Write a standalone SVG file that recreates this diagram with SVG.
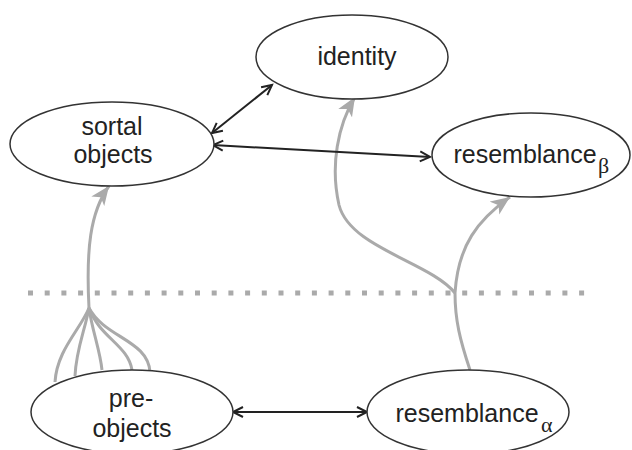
<svg xmlns="http://www.w3.org/2000/svg" width="632" height="450" viewBox="0 0 632 450">
<style>
.node ellipse{fill:#fff;stroke:#333;stroke-width:1.5}
.lbl{font-family:"Liberation Sans",Arial,sans-serif;font-size:25px;fill:#222;text-anchor:middle}
.sub{font-family:"Liberation Serif","DejaVu Serif",serif;font-size:22px;fill:#222}
.blk{fill:none;stroke:#222;stroke-width:2}
.gry{fill:none;stroke:#aaa;stroke-width:3}
</style>
<defs>
<marker id="bh" markerUnits="userSpaceOnUse" markerWidth="14" markerHeight="14" refX="11" refY="6" orient="auto-start-reverse" viewBox="0 0 14 12">
<path d="M1,1 L11,6 L1,11" fill="none" stroke="#222" stroke-width="2"/>
</marker>
<marker id="gh" markerUnits="userSpaceOnUse" markerWidth="20" markerHeight="17" refX="19" refY="8" orient="auto" viewBox="0 0 20 16">
<path d="M0,0 L19,8 L0,16 L5,8 z" fill="#aaa"/>
</marker>
</defs>
<rect width="632" height="450" fill="#fff"/>
<line x1="28" y1="293" x2="592" y2="293" stroke="#aaa" stroke-width="5" stroke-dasharray="5 11.7"/>
<g id="connectors">
<path class="gry" d="M55,382 C57,350 80,330 89,308"/>
<path class="gry" d="M75,376 C76,350 85,330 89,308"/>
<path class="gry" d="M102,370 C100,350 92,330 89,308"/>
<path class="gry" d="M132,370 C128,345 100,338 89,308"/>
<path class="gry" d="M150,372 C148,340 105,338 89,308"/>
<path class="gry" d="M89,308 C86,250 90,212 109,186" marker-end="url(#gh)"/>
<path class="gry" d="M470,370 C460,340 455,320 455,293"/>
<path class="gry" d="M455,293 C430,262 350,248 339,205 C330,165 338,125 355,97" marker-end="url(#gh)"/>
<path class="gry" d="M455,293 C458,245 478,220 510,197" marker-end="url(#gh)"/>
<path class="blk" d="M212,133 L272,85" marker-start="url(#bh)" marker-end="url(#bh)"/>
<path class="blk" d="M213,145 L430,157" marker-start="url(#bh)" marker-end="url(#bh)"/>
<path class="blk" d="M233,412 L367,412" marker-start="url(#bh)" marker-end="url(#bh)"/>
</g>
<g id="identity" class="node">
<ellipse cx="352" cy="57" rx="96" ry="42"/>
<text class="lbl" x="357" y="65">identity</text>
</g>
<g id="sortal" class="node">
<ellipse cx="112" cy="144" rx="102" ry="42"/>
<text class="lbl" x="112" y="135">sortal</text>
<text class="lbl" x="113" y="163">objects</text>
</g>
<g id="resemblance-beta" class="node">
<ellipse cx="531" cy="155" rx="99" ry="42"/>
<text class="lbl" x="525" y="163">resemblance</text>
<text class="sub" x="598" y="173">β</text>
</g>
<g id="pre-objects" class="node">
<ellipse cx="132" cy="412" rx="101" ry="42"/>
<text class="lbl" x="131" y="407">pre-</text>
<text class="lbl" x="132" y="437">objects</text>
</g>
<g id="resemblance-alpha" class="node">
<ellipse cx="468" cy="412" rx="101" ry="42"/>
<text class="lbl" x="467" y="422">resemblance</text>
<text class="sub" x="541" y="432">α</text>
</g>
</svg>
